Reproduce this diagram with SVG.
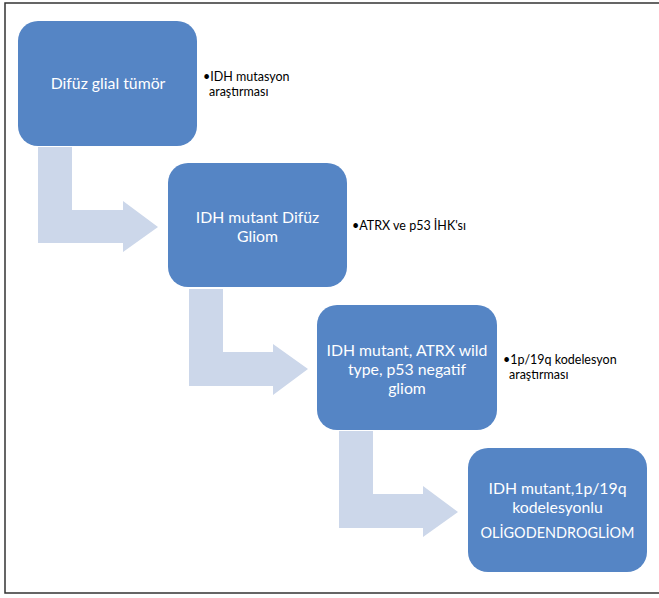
<svg xmlns="http://www.w3.org/2000/svg" width="659" height="598" viewBox="0 0 659 598">
<style>
.box{fill:#5585C5}
.arrow{fill:#CCD7EA}
.bt{font-family:Lato,"Open Sans",sans-serif;font-size:15.8px;fill:#FFFFFF;text-anchor:middle}
.st{font-family:Lato,"Open Sans",sans-serif;font-size:12.5px;fill:#000000}
.frame{fill:none;stroke:#333333;stroke-width:1.5}
</style>
<rect x="0" y="0" width="659" height="598" fill="#FFFFFF"/>
<path class="frame" d="M659,3 H5 V593 H659"/>
<g id="connectors">
<polygon class="arrow" points="38,147 72,147 72,210 123,210 123,201 158,227 123,252 123,243 38,243"/>
<polygon class="arrow" points="189,289 223,289 223,352 273,352 273,344 308,369 273,395 273,386 189,386"/>
<polygon class="arrow" points="339,431 373,431 373,494 423,494 423,486 458,512 423,537 423,528 339,528"/>
</g>
<g id="node1">
<rect class="box" x="18" y="21" width="179" height="125" rx="20"/>
<text class="bt" x="108" y="89">Difüz glial tümör</text>
</g>
<g id="note1">
<text class="st" x="203" y="81">•IDH mutasyon</text>
<text class="st" x="209" y="96">araştırması</text>
</g>
<g id="node2">
<rect class="box" x="168" y="163" width="179" height="124" rx="20"/>
<text class="bt" x="257.5" y="223">IDH mutant Difüz</text>
<text class="bt" x="257.5" y="242">Gliom</text>
</g>
<g id="note2">
<text class="st" x="352" y="230">•ATRX ve p53 İHK'sı</text>
</g>
<g id="node3">
<rect class="box" x="317" y="305" width="180" height="125" rx="20"/>
<text class="bt" x="407" y="356">IDH mutant, ATRX wild</text>
<text class="bt" x="407" y="375">type, p53 negatif</text>
<text class="bt" x="407" y="394">gliom</text>
</g>
<g id="note3">
<text class="st" x="503" y="364">•1p/19q kodelesyon</text>
<text class="st" x="509" y="379">araştırması</text>
</g>
<g id="node4">
<rect class="box" x="468" y="448" width="179" height="124" rx="20"/>
<text class="bt" x="557.5" y="494">IDH mutant,1p/19q</text>
<text class="bt" x="557.5" y="513">kodelesyonlu</text>
<text class="bt" x="557.5" y="538" textLength="154" lengthAdjust="spacingAndGlyphs">OLİGODENDROGLİOM</text>
</g>
</svg>
